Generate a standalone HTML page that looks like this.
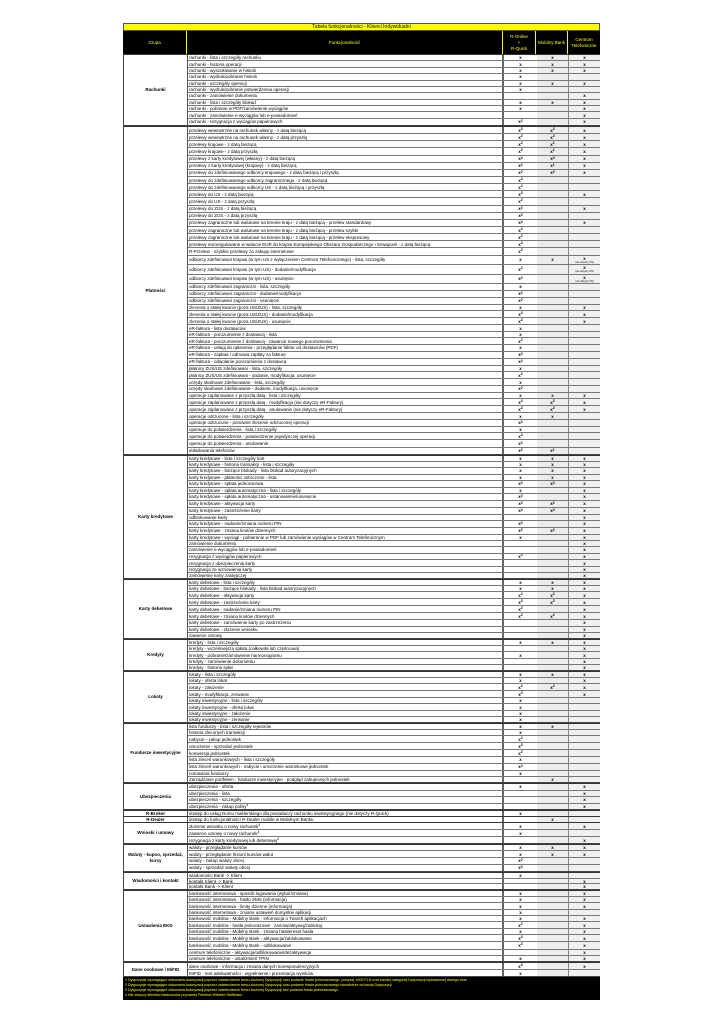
<!DOCTYPE html>
<html><head><meta charset="utf-8">
<style>
*{margin:0;padding:0;box-sizing:border-box}
body{width:724px;height:1024px;background:#fff;position:relative;font-family:"Liberation Sans",sans-serif;overflow:hidden}
.t{position:absolute;left:123px;top:23px;width:477px;height:8px;background:#ffff00;border:1px solid #555;font-size:5px;line-height:6px;text-align:center;color:#000}
.h{position:absolute;left:123px;top:31px;width:477px;height:23px;background:#000;color:#ffff00;font-size:4.5px;display:grid;grid-template-columns:64px 316px 33px 32px 32px}
.h div{display:flex;align-items:center;justify-content:center;text-align:center;border-right:1px solid #ffff00;line-height:6px}
.h div:last-child{border-right:none}
.s{position:absolute;left:123px;width:477px;display:flex;border:1px solid #444;border-top:1px solid #333;background:#fff}
.g{width:64px;flex:none;display:flex;align-items:center;justify-content:center;text-align:center;font-size:4.5px;font-weight:bold;border-right:1px solid #555;line-height:6px}
.rs{flex:1;display:flex;flex-direction:column}
.r{flex:1;display:grid;grid-template-columns:316px 33px 32px 31px;border-bottom:1px solid #777;font-size:4.5px;min-height:0}
.r:last-child{border-bottom:none}
.r.T{flex:1.6}
.r.S{flex:1.15}
.r span{display:flex;align-items:center;overflow:hidden;white-space:nowrap;line-height:5px}
.r span:first-child{padding-left:1px;border-right:2px solid #666}
.r span:nth-child(n+2){justify-content:center;font-weight:bold}
.r span.v{flex-direction:column}
.r span:nth-child(3){background:#ececec;border-right:1px solid #888}
.r span:nth-child(4){background:#f0f0f0}
sup{font-size:3.5px;line-height:0;position:relative;top:-1px}
small{font-size:2.5px;font-weight:normal;line-height:3px}
.f{position:absolute;left:123px;top:977px;width:477px;height:23px;background:#000;color:#ffff00;font-size:3.6px;line-height:5px;padding:1px 2px}
</style></head><body>
<div class="t">Tabela funkcjonalności - Klienci Indywidualni</div>
<div class="h"><div>Grupa</div><div>Funkcjonalność</div><div>R-Online<br>+<br>R-Quick</div><div>Mobilny Bank</div><div>Centrum Telefoniczne</div></div>

<div class="s" style="top:54px;height:72px"><div class="g">Rachunki</div><div class="rs">
<div class="r"><span>rachunki - lista i szczegóły rachunku</span><span>x</span><span>x</span><span>x</span></div>
<div class="r"><span>rachunki - historia operacji</span><span>x</span><span>x</span><span>x</span></div>
<div class="r"><span>rachunki - wyszukiwanie w historii</span><span>x</span><span>x</span><span>x</span></div>
<div class="r"><span>rachunki - wydruk/pobranie historii</span><span>x</span><span></span><span></span></div>
<div class="r"><span>rachunki - szczegóły operacji</span><span>x</span><span>x</span><span>x</span></div>
<div class="r"><span>rachunki - wydruk/pobranie potwierdzenia operacji</span><span>x</span><span></span><span></span></div>
<div class="r"><span>rachunki - zamówienie dokumentu</span><span></span><span></span><span>x</span></div>
<div class="r"><span>rachunki - lista i szczegóły blokad</span><span>x</span><span>x</span><span>x</span></div>
<div class="r"><span>rachunki - pobranie w PDF/zamówienie wyciągów</span><span>x</span><span></span><span>x</span></div>
<div class="r"><span>rachunki - zamówienie e-wyciągów lub e-powiadomień</span><span></span><span></span><span>x</span></div>
<div class="r S"><span>rachunki - rezygnacja z wyciągów papierowych</span><span>x<sup>2</sup></span><span></span><span>x</span></div>
</div></div>

<div class="s" style="top:126px;height:329px"><div class="g">Płatności</div><div class="rs">
<div class="r S"><span>przelewy wewnętrzne na rachunek własny - z datą bieżącą</span><span>x<sup>2</sup></span><span>x<sup>2</sup></span><span>x</span></div>
<div class="r S"><span>przelewy wewnętrzne na rachunek własny - z datą przyszłą</span><span>x<sup>2</sup></span><span>x<sup>2</sup></span><span>x</span></div>
<div class="r S"><span>przelewy krajowe - z datą bieżącą</span><span>x<sup>2</sup></span><span>x<sup>1</sup></span><span>x</span></div>
<div class="r S"><span>przelewy krajowe - z datą przyszłą</span><span>x<sup>2</sup></span><span>x<sup>1</sup></span><span>x</span></div>
<div class="r S"><span>przelewy z karty kredytowej (własny) - z datą bieżącą</span><span>x<sup>2</sup></span><span>x<sup>2</sup></span><span>x</span></div>
<div class="r S"><span>przelewy z karty kredytowej (krajowy) - z datą bieżącą</span><span>x<sup>2</sup></span><span>x<sup>1</sup></span><span>x</span></div>
<div class="r S"><span>przelewy do zdefiniowanego odbiorcy krajowego - z datą bieżącą i przyszłą</span><span>x<sup>2</sup></span><span>x<sup>2</sup></span><span>x</span></div>
<div class="r S"><span>przelewy do zdefiniowanego odbiorcy zagranicznego - z datą bieżącą</span><span>x<sup>2</sup></span><span></span><span></span></div>
<div class="r S"><span>przelewy do zdefiniowanego odbiorcy US - z datą bieżącą i przyszłą</span><span>x<sup>2</sup></span><span></span><span></span></div>
<div class="r S"><span>przelewy do US - z datą bieżącą</span><span>x<sup>2</sup></span><span></span><span>x</span></div>
<div class="r S"><span>przelewy do US - z datą przyszłą</span><span>x<sup>2</sup></span><span></span><span></span></div>
<div class="r S"><span>przelewy do ZUS - z datą bieżącą</span><span>x<sup>2</sup></span><span></span><span>x</span></div>
<div class="r S"><span>przelewy do ZUS - z datą przyszłą</span><span>x<sup>2</sup></span><span></span><span></span></div>
<div class="r S"><span>przelewy zagraniczne lub walutowe na terenie kraju - z datą bieżącą - przelew standardowy</span><span>x<sup>2</sup></span><span></span><span>x</span></div>
<div class="r S"><span>przelewy zagraniczne lub walutowe na terenie kraju - z datą bieżącą - przelew szybki</span><span>x<sup>2</sup></span><span></span><span></span></div>
<div class="r S"><span>przelewy zagraniczne lub walutowe na terenie kraju - z datą bieżącą - przelew ekspresowy</span><span>x<sup>2</sup></span><span></span><span></span></div>
<div class="r S"><span>przelewy euroregulowane w walucie EUR do krajów Europejskiego Obszaru Gospodarczego i Szwajcarii - z datą bieżącą</span><span>x<sup>2</sup></span><span></span><span></span></div>
<div class="r S"><span>R-Przelew - szybkie przelewy za zakupy internetowe</span><span>x<sup>2</sup></span><span></span><span></span></div>
<div class="r T"><span>odbiorcy zdefiniowani krajowi (w tym US z wyłączeniem Centrum Telefonicznego) - lista, szczegóły</span><span>x</span><span>x</span><span class="v">x<small>(nie dotyczy US)</small></span></div>
<div class="r T"><span>odbiorcy zdefiniowani krajowi (w tym US) - dodanie/modyfikacja</span><span>x<sup>2</sup></span><span></span><span class="v">x<small>(nie dotyczy US)</small></span></div>
<div class="r T"><span>odbiorcy zdefiniowani krajowi (w tym US) - usunięcie</span><span>x<sup>2</sup></span><span></span><span class="v">x<small>(nie dotyczy US)</small></span></div>
<div class="r"><span>odbiorcy zdefiniowani zagraniczni - lista, szczegóły</span><span>x</span><span></span><span></span></div>
<div class="r S"><span>odbiorcy zdefiniowani zagraniczni - dodanie/modyfikacja</span><span>x<sup>2</sup></span><span></span><span></span></div>
<div class="r S"><span>odbiorcy zdefiniowani zagraniczni - usunięcie</span><span>x<sup>2</sup></span><span></span><span></span></div>
<div class="r"><span>zlecenia o stałej kwocie (poza US/ZUS) - lista, szczegóły</span><span>x</span><span></span><span>x</span></div>
<div class="r S"><span>zlecenia o stałej kwocie (poza US/ZUS) - dodanie/modyfikacja</span><span>x<sup>2</sup></span><span></span><span>x</span></div>
<div class="r S"><span>zlecenia o stałej kwocie (poza US/ZUS) - usunięcie</span><span>x<sup>2</sup></span><span></span><span>x</span></div>
<div class="r"><span>eR-faktura - lista dostawców</span><span>x</span><span></span><span></span></div>
<div class="r"><span>eR-faktura - porozumienie z dostawcą - lista</span><span>x</span><span></span><span></span></div>
<div class="r S"><span>eR-faktura - porozumienie z dostawcą - zawarcie nowego porozumienia</span><span>x<sup>2</sup></span><span></span><span></span></div>
<div class="r"><span>eR-faktura - usługi do opłacenia - przeglądanie faktur od dostawców (PDF)</span><span>x</span><span></span><span></span></div>
<div class="r S"><span>eR-faktura - zapłata / odmowa zapłaty za fakturę</span><span>x<sup>2</sup></span><span></span><span></span></div>
<div class="r S"><span>eR-faktura - odwołanie porozumienia z dostawcą</span><span>x<sup>2</sup></span><span></span><span></span></div>
<div class="r"><span>płatnicy ZUS/US zdefiniowani - lista, szczegóły</span><span>x</span><span></span><span></span></div>
<div class="r S"><span>płatnicy ZUS/US zdefiniowani - dodanie, modyfikacja, usunięcie</span><span>x<sup>2</sup></span><span></span><span></span></div>
<div class="r"><span>urzędy skarbowe zdefiniowane - lista, szczegóły</span><span>x</span><span></span><span></span></div>
<div class="r S"><span>urzędy skarbowe zdefiniowane - dodanie, modyfikacja, usunięcie</span><span>x<sup>2</sup></span><span></span><span></span></div>
<div class="r"><span>operacje zaplanowane z przyszłą datą - lista i szczegóły</span><span>x</span><span>x</span><span>x</span></div>
<div class="r S"><span>operacje zaplanowane z przyszłą datą - modyfikacja (nie dotyczy eR-Faktury)</span><span>x<sup>2</sup></span><span>x<sup>2</sup></span><span>x</span></div>
<div class="r S"><span>operacje zaplanowane z przyszłą datą - anulowanie (nie dotyczy eR-Faktury)</span><span>x<sup>2</sup></span><span>x<sup>2</sup></span><span>x</span></div>
<div class="r"><span>operacje odrzucone - lista i szczegóły</span><span>x</span><span>x</span><span></span></div>
<div class="r S"><span>operacje odrzucone - ponowne zlecenie odrzuconej operacji</span><span>x<sup>2</sup></span><span></span><span></span></div>
<div class="r"><span>operacje do potwierdzenia - lista i szczegóły</span><span>x</span><span></span><span></span></div>
<div class="r S"><span>operacje do potwierdzenia - potwierdzenie pojedynczej operacji</span><span>x<sup>2</sup></span><span></span><span></span></div>
<div class="r S"><span>operacje do potwierdzenia - anulowanie</span><span>x<sup>2</sup></span><span></span><span></span></div>
<div class="r S"><span>doładowania telefonów</span><span>x<sup>2</sup></span><span>x<sup>1</sup></span><span></span></div>
</div></div>

<div class="s" style="top:455px;height:124px"><div class="g">Karty kredytowe</div><div class="rs">
<div class="r"><span>karty kredytowe - lista i szczegóły kart</span><span>x</span><span>x</span><span>x</span></div>
<div class="r"><span>karty kredytowe - historia transakcji - lista i szczegóły</span><span>x</span><span>x</span><span>x</span></div>
<div class="r"><span>karty kredytowe - bieżące blokady - lista blokad autoryzacyjnych</span><span>x</span><span>x</span><span>x</span></div>
<div class="r"><span>karty kredytowe - płatności odroczone - lista</span><span>x</span><span>x</span><span>x</span></div>
<div class="r S"><span>karty kredytowe - spłata jednorazowa</span><span>x<sup>2</sup></span><span>x<sup>2</sup></span><span>x</span></div>
<div class="r"><span>karty kredytowe - spłata automatyczna - lista i szczegóły</span><span>x</span><span></span><span>x</span></div>
<div class="r S"><span>karty kredytowe - spłata automatyczna - ustanowienie/usunięcie</span><span>x<sup>2</sup></span><span></span><span>x</span></div>
<div class="r S"><span>karty kredytowe - aktywacja karty</span><span>x<sup>2</sup></span><span>x<sup>2</sup></span><span>x</span></div>
<div class="r S"><span>karty kredytowe - zastrzeżenie karty</span><span>x<sup>2</sup></span><span>x<sup>2</sup></span><span>x</span></div>
<div class="r"><span>odblokowanie karty</span><span></span><span></span><span>x</span></div>
<div class="r S"><span>karty kredytowe - nadanie/zmiana numeru PIN</span><span>x<sup>2</sup></span><span></span><span>x</span></div>
<div class="r S"><span>karty kredytowe - zmiana limitów dziennych</span><span>x<sup>2</sup></span><span>x<sup>2</sup></span><span>x</span></div>
<div class="r"><span>karty kredytowe - wyciągi - pobieranie w PDF lub zamówienie wyciągów w Centrum Telefonicznym</span><span>x</span><span></span><span>x</span></div>
<div class="r"><span>zamówienie dokumentu</span><span></span><span></span><span>x</span></div>
<div class="r"><span>zamówienie e-wyciągów lub e-powiadomień</span><span></span><span></span><span>x</span></div>
<div class="r S"><span>rezygnacja z wyciągów papierowych</span><span>x<sup>2</sup></span><span></span><span>x</span></div>
<div class="r"><span>rezygnacja z ubezpieczenia karty</span><span></span><span></span><span>x</span></div>
<div class="r"><span>rezygnacja ze wznowienia karty</span><span></span><span></span><span>x</span></div>
<div class="r"><span>zamówienie karty zastępczej</span><span></span><span></span><span>x</span></div>
</div></div>

<div class="s" style="top:579px;height:60px"><div class="g">Karty debetowe</div><div class="rs">
<div class="r"><span>karty debetowe - lista i szczegóły</span><span>x</span><span>x</span><span>x</span></div>
<div class="r"><span>karty debetowe - bieżące blokady - lista blokad autoryzacyjnych</span><span>x</span><span>x</span><span>x</span></div>
<div class="r S"><span>karty debetowe - aktywacja karty</span><span>x<sup>2</sup></span><span>x<sup>2</sup></span><span>x</span></div>
<div class="r S"><span>karty debetowe - zastrzeżenie karty</span><span>x<sup>2</sup></span><span>x<sup>2</sup></span><span>x</span></div>
<div class="r S"><span>karty debetowe - nadanie/zmiana numeru PIN</span><span>x<sup>2</sup></span><span></span><span>x</span></div>
<div class="r S"><span>karty debetowe - zmiana limitów dziennych</span><span>x<sup>2</sup></span><span>x<sup>2</sup></span><span>x</span></div>
<div class="r"><span>karty debetowe - zamówienie karty po zastrzeżeniu</span><span></span><span></span><span>x</span></div>
<div class="r"><span>karty debetowe - złożenie wniosku</span><span></span><span></span><span>x</span></div>
<div class="r"><span>zawarcie umowy</span><span></span><span></span><span>x</span></div>
</div></div>

<div class="s" style="top:639px;height:32px"><div class="g">Kredyty</div><div class="rs">
<div class="r"><span>kredyty - lista i szczegóły</span><span>x</span><span>x</span><span>x</span></div>
<div class="r"><span>kredyty - wcześniejsza spłata (całkowita lub częściowa)</span><span></span><span></span><span>x</span></div>
<div class="r"><span>kredyty - pobranie/zamówienie harmonogramu</span><span>x</span><span></span><span>x</span></div>
<div class="r"><span>kredyty - zamówienie dokumentu</span><span></span><span></span><span>x</span></div>
<div class="r"><span>kredyty - historia spłat</span><span></span><span></span><span>x</span></div>
</div></div>

<div class="s" style="top:671px;height:52px"><div class="g">Lokaty</div><div class="rs">
<div class="r"><span>lokaty - lista i szczegóły</span><span>x</span><span>x</span><span>x</span></div>
<div class="r"><span>lokaty - oferta lokat</span><span>x</span><span></span><span>x</span></div>
<div class="r S"><span>lokaty - założenie</span><span>x<sup>2</sup></span><span>x<sup>2</sup></span><span>x</span></div>
<div class="r S"><span>lokaty - modyfikacja, zerwanie</span><span>x<sup>2</sup></span><span></span><span>x</span></div>
<div class="r"><span>lokaty inwestycyjne - lista i szczegóły</span><span>x</span><span></span><span></span></div>
<div class="r"><span>lokaty inwestycyjne - oferta lokat</span><span>x</span><span></span><span></span></div>
<div class="r"><span>lokaty inwestycyjne - założenie</span><span>x</span><span></span><span></span></div>
<div class="r"><span>lokaty inwestycyjne - zerwanie</span><span>x</span><span></span><span></span></div>
</div></div>

<div class="s" style="top:723px;height:60px"><div class="g">Fundusze inwestycyjne</div><div class="rs">
<div class="r"><span>lista funduszy - lista i szczegóły rejestrów</span><span>x</span><span>x</span><span></span></div>
<div class="r"><span>historia zleconych transakcji</span><span>x</span><span></span><span></span></div>
<div class="r S"><span>nabycie - zakup jednostek</span><span>x<sup>2</sup></span><span></span><span></span></div>
<div class="r S"><span>umorzenie - sprzedaż jednostek</span><span>x<sup>2</sup></span><span></span><span></span></div>
<div class="r S"><span>konwersja jednostek</span><span>x<sup>2</sup></span><span></span><span></span></div>
<div class="r"><span>lista zleceń warunkowych - lista i szczegóły</span><span>x</span><span></span><span></span></div>
<div class="r S"><span>lista zleceń warunkowych - nabycie i umorzenie warunkowe jednostek</span><span>x<sup>2</sup></span><span></span><span></span></div>
<div class="r"><span>notowania funduszy</span><span>x</span><span></span><span></span></div>
<div class="r"><span>Zarządzanie portfelem - fundusze inwestycyjne - podgląd zakupionych jednostek</span><span></span><span>x</span><span></span></div>
</div></div>

<div class="s" style="top:783px;height:27px"><div class="g">Ubezpieczenia</div><div class="rs">
<div class="r"><span>ubezpieczenia - oferta</span><span>x</span><span></span><span>x</span></div>
<div class="r"><span>ubezpieczenia - lista</span><span></span><span></span><span>x</span></div>
<div class="r"><span>ubezpieczenia - szczegóły</span><span></span><span></span><span>x</span></div>
<div class="r"><span>ubezpieczenia - zakup polisy<sup>4</sup></span><span></span><span></span><span>x</span></div>
</div></div>

<div class="s" style="top:810px;height:7px"><div class="g">R-Broker</div><div class="rs">
<div class="r"><span>dostęp do usług Domu maklerskiego dla posiadaczy rachunku inwestycyjnego (nie dotyczy R-Quick)</span><span>x</span><span></span><span></span></div>
</div></div>

<div class="s" style="top:816px;height:7px"><div class="g">R-Dealer</div><div class="rs">
<div class="r"><span>dostęp do funkcjonalności R-Dealer mobile w Mobilnym Banku</span><span></span><span>x</span><span></span></div>
</div></div>

<div class="s" style="top:822px;height:22px"><div class="g">Wnioski i umowy</div><div class="rs">
<div class="r"><span>złożenie wniosku o nowy rachunek<sup>4</sup></span><span>x</span><span></span><span>x</span></div>
<div class="r"><span>zawarcie umowy o nowy rachunek<sup>4</sup></span><span>x</span><span></span><span></span></div>
<div class="r"><span>rezygnacja z karty kredytowej lub debetowej<sup>4</sup></span><span></span><span></span><span>x</span></div>
</div></div>

<div class="s" style="top:844px;height:28px"><div class="g">Waluty - kupno, sprzedaż,<br>kursy</div><div class="rs">
<div class="r"><span>waluty - przeglądanie kursów</span><span>x</span><span>x</span><span>x</span></div>
<div class="r"><span>waluty - przeglądanie historii kursów walut</span><span>x</span><span>x</span><span>x</span></div>
<div class="r S"><span>waluty - zakup waluty obcej</span><span>x<sup>2</sup></span><span></span><span></span></div>
<div class="r S"><span>waluty - sprzedaż waluty obcej</span><span>x<sup>2</sup></span><span></span><span></span></div>
</div></div>

<div class="s" style="top:872px;height:18px"><div class="g">Wiadomości i kontakt</div><div class="rs">
<div class="r"><span>wiadomości Bank -&gt; Klient</span><span>x</span><span></span><span></span></div>
<div class="r"><span>kontakt Klient -&gt; Bank</span><span></span><span></span><span>x</span></div>
<div class="r"><span>kontakt Bank -&gt; Klient</span><span></span><span></span><span>x</span></div>
</div></div>

<div class="s" style="top:890px;height:72px"><div class="g">Ustawienia EKD</div><div class="rs">
<div class="r"><span>bankowość internetowa - sposób logowania (wybór/zmiana)</span><span>x</span><span></span><span>x</span></div>
<div class="r"><span>bankowość internetowa - hasło SMS (informacja)</span><span>x</span><span></span><span>x</span></div>
<div class="r"><span>bankowość internetowa - limity dzienne (informacja)</span><span>x</span><span></span><span>x</span></div>
<div class="r"><span>bankowość internetowa - zmiana ustawień domyślne aplikacji</span><span>x</span><span></span><span></span></div>
<div class="r"><span>bankowość mobilna - Mobilny Bank - informacja o Twoich aplikacjach</span><span>x</span><span></span><span>x</span></div>
<div class="r S"><span>bankowość mobilna - hasła jednorazowe - zamów/aktywuj/zablokuj</span><span>x<sup>2</sup></span><span></span><span>x</span></div>
<div class="r"><span>bankowość mobilna - Mobilny Bank - zmiana hasła/reset hasła</span><span>x</span><span></span><span>x</span></div>
<div class="r S"><span>bankowość mobilna - Mobilny Bank - aktywacja/zablokowanie</span><span>x<sup>2</sup></span><span></span><span>x</span></div>
<div class="r S"><span>bankowość mobilna - Mobilny Bank - odblokowanie</span><span>x<sup>2</sup></span><span></span><span>x</span></div>
<div class="r"><span>centrum telefoniczne - aktywacja/odblokowanie/dezaktywacja</span><span></span><span></span><span>x</span></div>
<div class="r"><span>centrum telefoniczne - ustal/zmień TPIN</span><span>x</span><span></span><span>x</span></div>
</div></div>

<div class="s" style="top:962px;height:15px"><div class="g">Dane osobowe i MiFID</div><div class="rs">
<div class="r"><span>dane osobowe - informacja i zmiana danych korespondencyjnych</span><span>x<sup>3</sup></span><span></span><span>x</span></div>
<div class="r"><span>MiFID - test adekwatności - wypełnienie i prezentacja wyników</span><span>x</span><span></span><span></span></div>
</div></div>

<div class="f">1 Dyspozycje wymagające dokonania Autoryzacji poprzez zatwierdzenie treści złożonej Dyspozycji oraz podanie Hasła jednorazowego, powyżej 1000 PLN oraz każdej następnej Dyspozycji wystawionej danego dnia<br>2 Dyspozycje wymagające dokonania Autoryzacji poprzez zatwierdzenie treści złożonej Dyspozycji oraz podanie Hasła jednorazowego niezależnie od kwoty Dyspozycji<br>3 Dyspozycje wymagające dokonania Autoryzacji poprzez zatwierdzenie treści złożonej Dyspozycji bez podania Hasła jednorazowego<br>4 Nie dotyczy klientów bankowości prywatnej Friedrich Wilhelm Raiffeisen</div>
</body></html>
